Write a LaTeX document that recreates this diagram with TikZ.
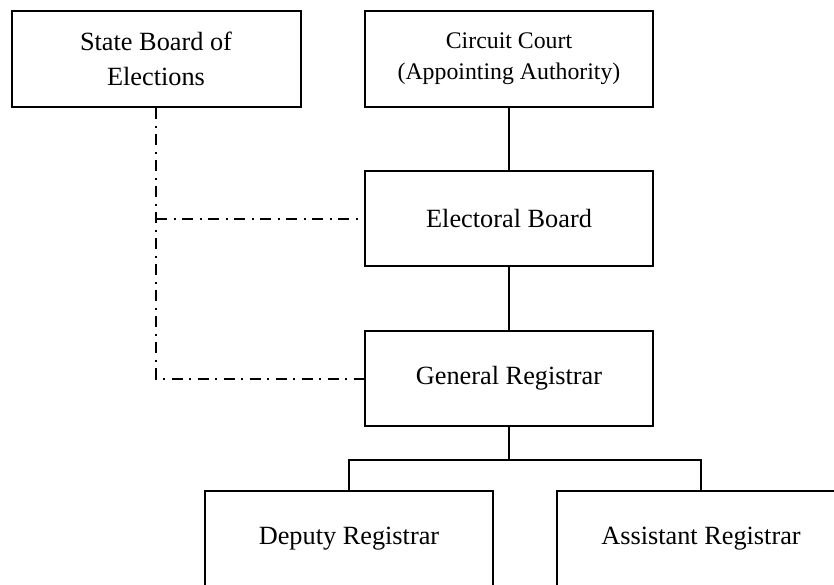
\documentclass[tikz,border=0pt]{standalone}
\usepackage{fontspec}
\setmainfont{Liberation Serif}
\begin{document}
\begin{tikzpicture}[x=1pt,y=-1pt,
  box/.style={draw, line width=2pt, minimum width=288pt, minimum height=95pt, inner sep=0pt, align=center, font=\fontsize{26.3}{35}\selectfont},
  link/.style={line width=2pt},
  dashdot/.style={line width=2pt, dash pattern=on 11pt off 6.5pt on 2pt off 6.5pt}]
\useasboundingbox (0,0) rectangle (834,584);
\clip (0,0) rectangle (834,584);
\node[box, minimum width=289pt, minimum height=96pt] (sbe) at (156,59) {State Board of\\Elections};
\node[box, minimum height=96pt, font=\fontsize{23.8}{31}\selectfont] (cc) at (509,59) {Circuit Court\\(Appointing Authority)};
\node[box] (eb) at (509,218.5) {Electoral Board};
\node[box] (gr) at (509,378.5) {General Registrar};
\node[box, minimum height=96pt] (dr) at (349,539) {Deputy Registrar};
\node[box, minimum height=96pt] (ar) at (701,539) {Assistant Registrar};
\draw[link] (cc.south) -- (eb.north);
\draw[link] (eb.south) -- (gr.north);
\draw[link] (gr.south) -- ++(0,33) coordinate (bus);
\draw[link] (dr.north) -- (dr.north |- bus) -- (ar.north |- bus) -- (ar.north);
\coordinate (j) at (sbe.south |- eb.west);
\draw[dashdot] (sbe.south) |- (gr.west);
\draw[dashdot] (j) -- (eb.west);
\end{tikzpicture}
\end{document}
